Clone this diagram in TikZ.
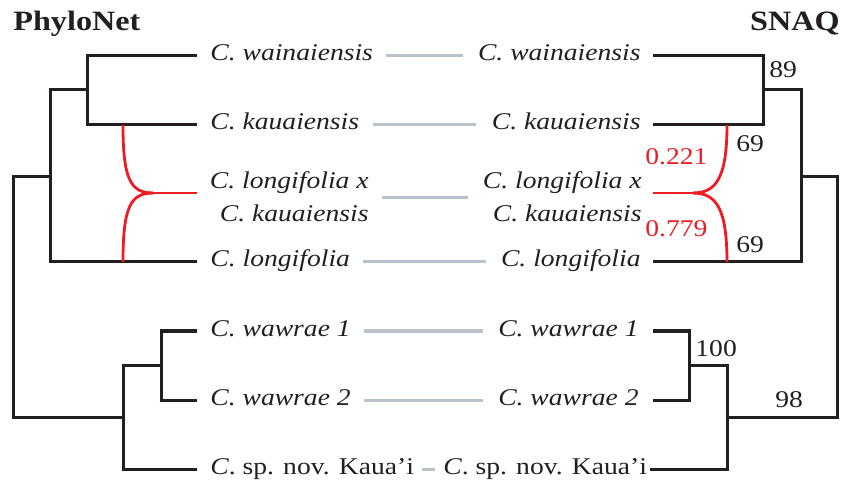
\documentclass[tikz,border=0pt]{standalone}
\usepackage{fontspec}
\setmainfont{Liberation Serif}[FakeStretch=1.15]
\definecolor{treeblk}{RGB}{35,31,32}
\definecolor{hybred}{RGB}{237,28,36}
\definecolor{linkgrey}{RGB}{186,194,202}
\begin{document}
\begin{tikzpicture}[x=0.5pt,y=-0.5pt,
  tree/.style={line width=1.5pt,treeblk},
  ret/.style={line width=1.4pt,hybred},
  link/.style={line width=1.5pt,linkgrey,shorten <=6.5pt,shorten >=7.5pt},
  lab/.style={font=\fontsize{12}{14}\selectfont\itshape,inner sep=0pt,text height=7pt,text depth=2pt,text=treeblk},
  hlab/.style={font=\fontsize{12}{16.5}\selectfont\itshape,inner sep=0pt,text=treeblk},
  num/.style={font=\fontsize{12}{14}\selectfont,inner sep=0pt,text=treeblk},
  rnum/.style={font=\fontsize{12}{14}\selectfont,inner sep=0pt,text=hybred},
  ttl/.style={font=\fontsize{14}{16}\selectfont\bfseries,inner sep=0pt,text=treeblk}]
\useasboundingbox (0,0) rectangle (846,486);

% titles
\node[ttl,anchor=base west] (tP) at (13,31) {PhyloNet};
\node[ttl,anchor=base east] (tS) at (840,31) {SNAQ};

% left labels
\node[lab,anchor=west] (lw) at (210,56) {C. wainaiensis};
\node[lab,anchor=west] (lk) at (210,125) {C. kauaiensis};
\node[hlab,anchor=east] (lh) at (369,198) {\begin{tabular}{@{}r@{}}C. longifolia x\\C. kauaiensis\end{tabular}};
\node[lab,anchor=west] (ll) at (210,262) {C. longifolia};
\node[lab,anchor=west] (l1) at (210,331) {C. wawrae 1};
\node[lab,anchor=west] (l2) at (210,400) {C. wawrae 2};
\node[lab,anchor=west,font=\fontsize{12}{14}\selectfont] (ls) at (210,469) {\textit{C}. sp. nov. Kaua’i};

% right labels
\node[lab,anchor=east] (rw) at (641,56) {C. wainaiensis};
\node[lab,anchor=east] (rk) at (641,125) {C. kauaiensis};
\node[hlab,anchor=east] (rh) at (642,198) {\begin{tabular}{@{}r@{}}C. longifolia x\\C. kauaiensis\end{tabular}};
\node[lab,anchor=east] (rl) at (641,262) {C. longifolia};
\node[lab,anchor=east] (r1) at (639,331) {C. wawrae 1};
\node[lab,anchor=east] (r2) at (639,400) {C. wawrae 2};
\node[lab,anchor=west,font=\fontsize{12}{14}\selectfont] (rs) at (443,469) {\textit{C}. sp. nov. Kaua’i};

% grey links
\draw[link] (lw) -- (rw);
\draw[link] (lk) -- (rk);
\draw[link] (lh) -- (rh);
\draw[link] (ll) -- (rl);
\draw[link] (l1) -- (r1);
\draw[link] (l2) -- (r2);
\draw[link,shorten <=4pt,shorten >=4pt] (ls) -- (rs);

% left tree
\coordinate (lR) at (13,297);
\coordinate (lA) at (50,177);
\coordinate (lB) at (87,90);
\coordinate (lC) at (123,417);
\coordinate (lD) at (161,365);
\coordinate (tw) at (197,56);
\coordinate (tk) at (197,125);
\coordinate (th) at (197,193);
\coordinate (tl) at (197,262);
\coordinate (t1) at (197,331);
\coordinate (t2) at (197,400);
\coordinate (ts) at (197,469);
\draw[tree] (lR) |- (lA);
\draw[tree] (lR) |- (lC);
\draw[tree] (lA) |- (lB);
\draw[tree] (lA) |- (tl);
\draw[tree] (lB) |- (tw);
\draw[tree] (lB) |- (tk);
\draw[tree] (lC) |- (lD);
\draw[tree] (lC) |- (ts);
\draw[tree] (lD) |- (t1);
\draw[tree] (lD) |- (t2);
% left reticulation
\coordinate (lK) at (123,125);
\coordinate (lL) at (123,262);
\coordinate (lH) at (153,193);
\draw[ret] (lK) .. controls (123,178) and (130,193) .. (lH);
\draw[ret] (lH) .. controls (130,193) and (123,208) .. (lL);
\draw[ret] (lH) -- (th);

% right tree
\coordinate (rR) at (837,297);
\coordinate (rA) at (801,177);
\coordinate (rB) at (763,90);
\coordinate (rC) at (727,417);
\coordinate (rD) at (689,365);
\coordinate (uw) at (653,56);
\coordinate (uk) at (653,125);
\coordinate (uh) at (653,193);
\coordinate (ul) at (653,262);
\coordinate (u1) at (653,331);
\coordinate (u2) at (653,400);
\coordinate (us) at (650,469);
\draw[tree] (rR) |- (rA);
\draw[tree] (rR) |- (rC);
\draw[tree] (rA) |- (rB);
\draw[tree] (rA) |- (ul);
\draw[tree] (rB) |- (uw);
\draw[tree] (rB) |- (uk);
\draw[tree] (rC) |- (rD);
\draw[tree] (rC) |- (us);
\draw[tree] (rD) |- (u1);
\draw[tree] (rD) |- (u2);
% right reticulation
\coordinate (rK) at (727,125);
\coordinate (rL) at (727,262);
\coordinate (rH) at (693,193);
\draw[ret] (rK) .. controls (727,178) and (716,193) .. (rH);
\draw[ret] (rH) .. controls (716,193) and (727,208) .. (rL);
\draw[ret] (rH) -- (uh);

% support values
\node[num,anchor=base west] (s89) at (769,78) {89};
\node[num,anchor=base west] (s69a) at (736,152) {69};
\node[num,anchor=base west] (s69b) at (736,253) {69};
\node[num,anchor=base west] (s100) at (695,357) {100};
\node[num,anchor=base west] (s98) at (775,407) {98};
\node[rnum,anchor=base west] (g1) at (645,165) {0.221};
\node[rnum,anchor=base west] (g2) at (645,237) {0.779};
\end{tikzpicture}
\end{document}
